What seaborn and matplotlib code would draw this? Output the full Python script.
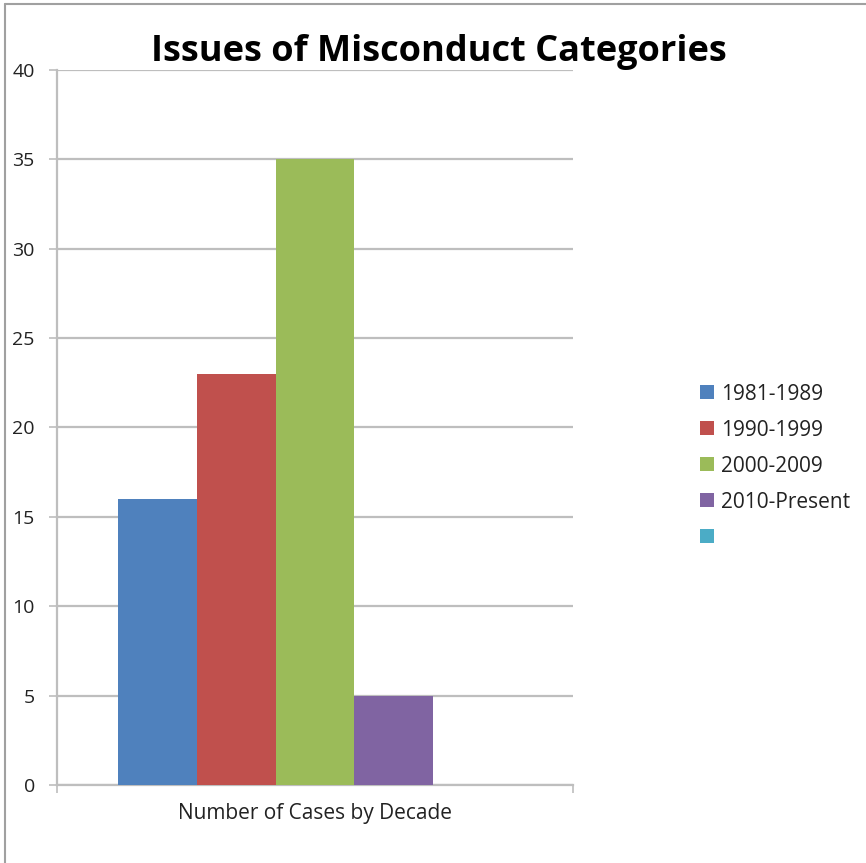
import matplotlib
matplotlib.use("Agg")
import matplotlib.pyplot as plt
from matplotlib.lines import Line2D
import pandas as pd
import seaborn as sns

# Chart data
category = ["Number of Cases by Decade"]
decades = ["1981-1989", "1990-1999", "2000-2009", "2010-Present", ""]
cases = [16, 23, 35, 5, 0]
y_ticks = [0, 5, 10, 15, 20, 25, 30, 35, 40]
colors = ["#4F81BD", "#C0504D", "#9BBB59", "#8064A2", "#4BACC6"]

df = pd.DataFrame({
    "category": category * len(decades),
    "decade": decades,
    "cases": cases,
})

sns.set_theme(style="white")
plt.rcParams["font.family"] = ["Open Sans", "DejaVu Sans"]

fig = plt.figure(figsize=(8.66, 8.63), dpi=100)
ax = fig.add_axes([0.0658, 0.0904, 0.5958, 0.8285])

sns.barplot(data=df, x="category", y="cases", hue="decade",
            hue_order=decades, palette=colors, width=0.764, gap=0,
            saturation=1, linewidth=0, ax=ax, zorder=3, legend=False)

ax.set_xlim(-0.5, 0.5)
ax.set_ylim(0, 40)
ax.set_yticks(y_ticks)
ax.set_xlabel("")
ax.set_ylabel("")

grid_col = "#BEBEBE"
ax.yaxis.grid(True, color=grid_col, linewidth=1.6, zorder=0)
ax.set_axisbelow(True)
for side in ["top", "right"]:
    ax.spines[side].set_visible(False)
for side in ["left", "bottom"]:
    ax.spines[side].set_color(grid_col)
    ax.spines[side].set_linewidth(1.6)

ax.tick_params(axis="y", which="major", direction="out", length=6,
               width=1.2, color=grid_col, pad=10, labelsize=14,
               labelcolor="#222222", left=True)
ax.tick_params(axis="x", which="major", length=0, pad=13,
               labelsize=15, labelcolor="#222222")
ax.set_xticks([-0.5, 0.5], minor=True)
ax.tick_params(axis="x", which="minor", direction="out", length=6,
               width=1.2, color=grid_col, bottom=True)

# legend built from the bar containers so the unnamed series keeps its swatch
handles = [c.patches[0] for c in ax.containers]
leg = ax.legend(handles, decades, loc="center left",
                bbox_to_anchor=(1.21, 0.446), frameon=False, fontsize=15,
                handlelength=0.65, handleheight=0.65, handletextpad=0.35,
                labelspacing=0.72)
for t in leg.get_texts():
    t.set_color("#222222")

fig.suptitle("Issues of Misconduct Categories", x=0.507, y=0.961,
             va="top", fontsize=26, fontweight="bold", color="black")

# outer chart frame on the left and top edges
fig.add_artist(Line2D([0.006, 0.006], [0, 0.995], color="#A0A0A0",
                      linewidth=1.5, transform=fig.transFigure))
fig.add_artist(Line2D([0.006, 1], [0.995, 0.995], color="#A0A0A0",
                      linewidth=1.5, transform=fig.transFigure))

fig.savefig("out.png", dpi=100, facecolor="white")
